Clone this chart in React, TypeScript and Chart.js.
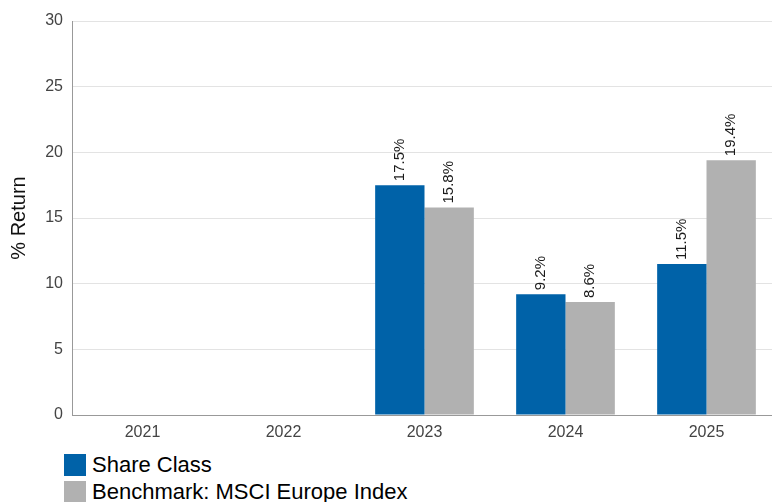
import React, { useEffect, useRef } from "react";
import { Chart, registerables } from "chart.js";

Chart.register(...registerables);

const categories = ["2021", "2022", "2023", "2024", "2025"];
const shareClass: (number | null)[] = [null, null, 17.5, 9.2, 11.5];
const benchmark: (number | null)[] = [null, null, 15.8, 8.6, 19.4];
const seriesNames = ["Share Class", "Benchmark: MSCI Europe Index"];
const seriesColors = ["#0062A8", "#B1B1B1"];
const yTitle = "% Return";

const FONT = "'Liberation Sans', Arial, Helvetica, sans-serif";

const labelPlugin = {
  id: "barValueLabels",
  afterDatasetsDraw(chart: any) {
    const ctx = chart.ctx;
    ctx.save();
    ctx.font = `15px ${FONT}`;
    ctx.fillStyle = "#1a1a1a";
    chart.data.datasets.forEach((ds: any, di: number) => {
      const meta = chart.getDatasetMeta(di);
      meta.data.forEach((el: any, i: number) => {
        const v = ds.data[i];
        if (v === null || v === undefined) return;
        ctx.save();
        ctx.translate(el.x, el.y - 4);
        ctx.rotate(-Math.PI / 2);
        ctx.textAlign = "left";
        ctx.textBaseline = "middle";
        ctx.fillText(v.toFixed(1) + "%", 0, 0);
        ctx.restore();
      });
    });
    ctx.restore();
  },
};

export default function App() {
  const ref = useRef<HTMLCanvasElement | null>(null);

  useEffect(() => {
    document.body.style.margin = "0";
    if (!ref.current) return;
    const chart = new Chart(ref.current, {
      type: "bar",
      data: {
        labels: categories,
        datasets: [
          {
            label: seriesNames[0],
            data: shareClass,
            backgroundColor: seriesColors[0],
            categoryPercentage: 0.7,
            barPercentage: 1.0,
          },
          {
            label: seriesNames[1],
            data: benchmark,
            backgroundColor: seriesColors[1],
            categoryPercentage: 0.7,
            barPercentage: 1.0,
          },
        ],
      },
      options: {
        responsive: false,
        animation: false,
        layout: { padding: { top: 21, right: 0, left: 0, bottom: 0 } },
        plugins: {
          legend: { display: false },
          tooltip: { enabled: false },
        },
        scales: {
          x: {
            grid: { display: true, drawOnChartArea: false, drawTicks: false },
            border: { display: true, color: "#999" },
            ticks: {
              color: "#444",
              font: { family: FONT, size: 16 },
              padding: 8,
            },
            afterFit(scale: any) {
              scale.height = 30;
            },
          },
          y: {
            min: 0,
            max: 30,
            ticks: {
              stepSize: 5,
              color: "#444",
              font: { family: FONT, size: 16 },
              padding: 9,
            },
            grid: { color: "#e3e3e3", drawTicks: false },
            border: { display: true, color: "#999" },
            title: {
              display: true,
              text: yTitle,
              color: "#111",
              font: { family: FONT, size: 20 },
              padding: { top: 7, bottom: 0 },
            },
            afterFit(scale: any) {
              scale.width = 72;
            },
          },
        },
      },
      plugins: [labelPlugin],
    });
    return () => chart.destroy();
  }, []);

  return (
    <div style={{ position: "absolute", left: 0, top: 0, width: 772, height: 502, overflow: "hidden", fontFamily: FONT }}>
      <canvas ref={ref} width={777} height={445} style={{ display: "block" }} />
      <div style={{ position: "absolute", left: 64, top: 451 }}>
        {seriesNames.map((n, i) => (
          <div key={n} style={{ display: "flex", alignItems: "center", height: 27, marginBottom: 0 }}>
            <div style={{ width: 22, height: 22, background: seriesColors[i], marginRight: 6 }} />
            <span style={{ fontSize: 22, color: "#000", lineHeight: "22px" }}>{n}</span>
          </div>
        ))}
      </div>
    </div>
  );
}
